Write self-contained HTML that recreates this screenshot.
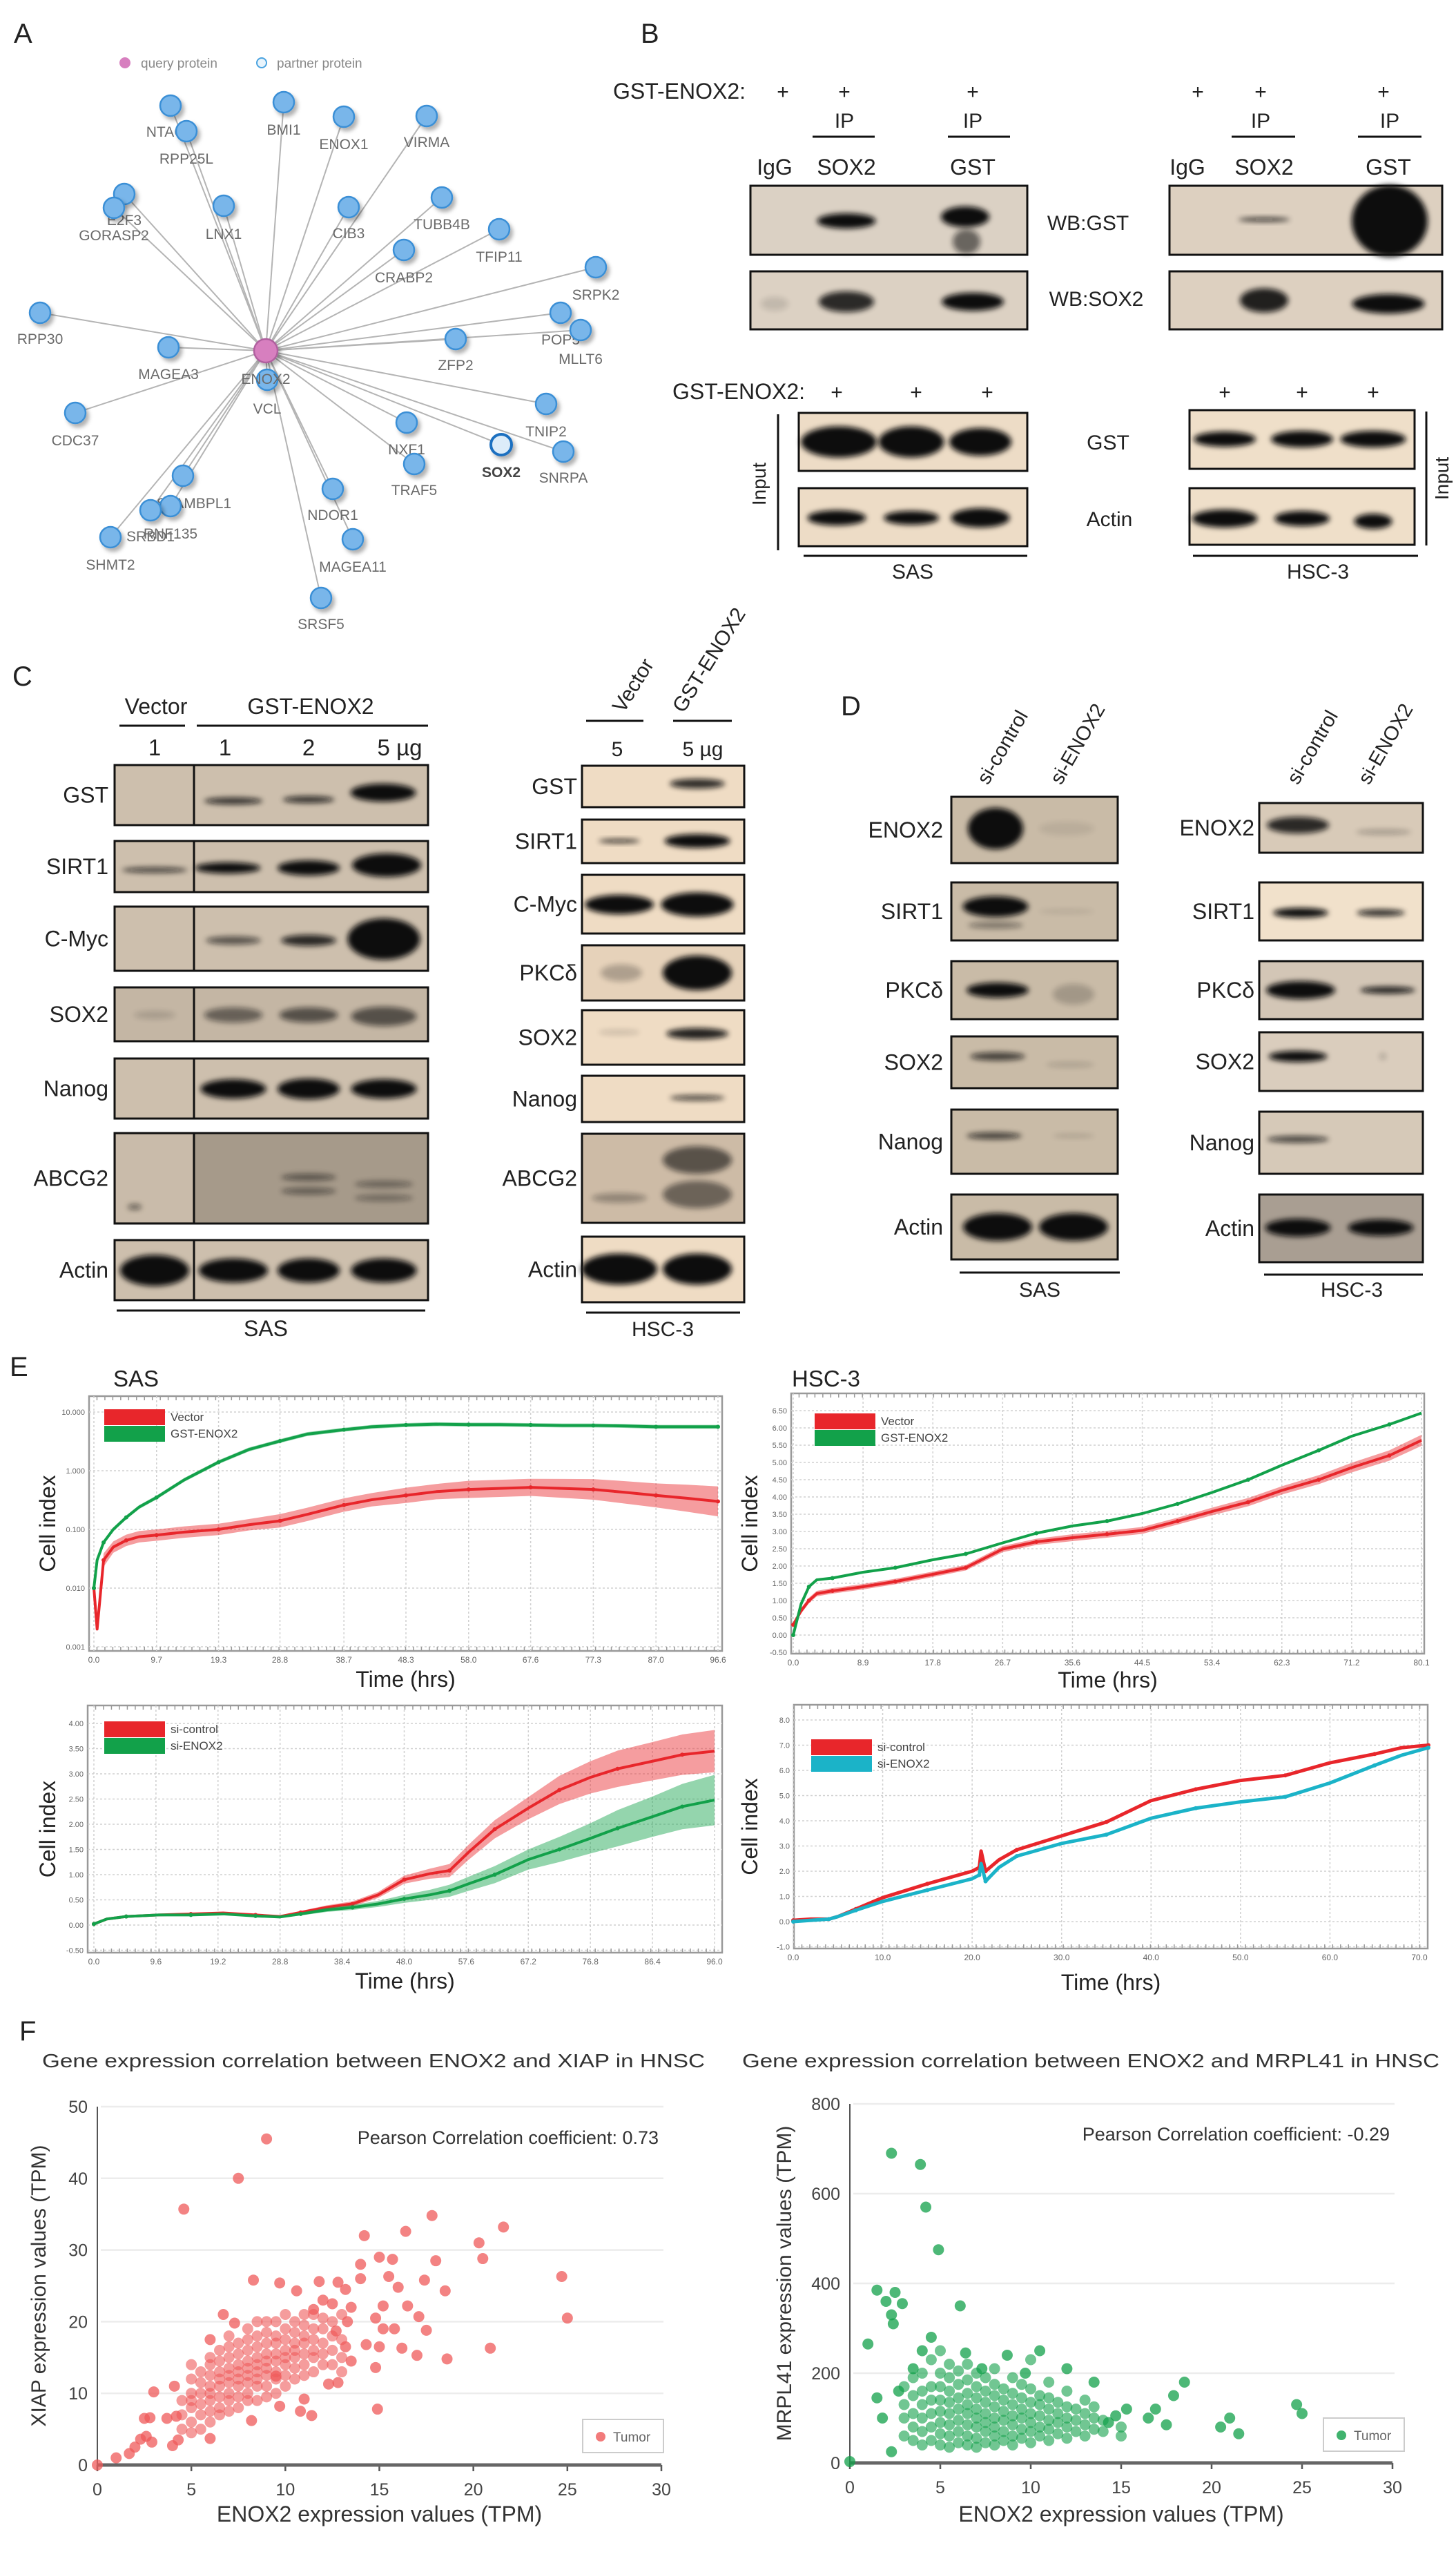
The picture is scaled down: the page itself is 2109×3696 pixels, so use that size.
<!DOCTYPE html>
<html><head><meta charset="utf-8"><title>ENOX2 figure</title>
<style>html,body{margin:0;padding:0;background:#fff}svg{display:block}</style></head>
<body>
<svg id="fig" width="2109" height="3696" viewBox="0 0 2109 3696" xmlns="http://www.w3.org/2000/svg" font-family="'Liberation Sans', Arial, sans-serif">
<defs>
<filter id="blur" x="-60%" y="-100%" width="220%" height="300%"><feGaussianBlur stdDeviation="4"/></filter>
<filter id="shadow" x="-50%" y="-50%" width="220%" height="220%"><feDropShadow dx="4" dy="5" stdDeviation="3" flood-color="#000" flood-opacity="0.3"/></filter>
</defs>
<rect x="0" y="0" width="2109" height="3696" fill="#fff"/>
</svg>
<script>
// ===== Panel E data =====
const sasOeTime=[0,0.5,1.5,3,5,7,9.7,14,19.3,24,28.8,33,38.7,43,48.3,53,58,62.8,67.6,72.5,77.3,82,87,91.8,96.6];
const sasOeGst=[0.01,0.03,0.06,0.1,0.16,0.24,0.35,0.7,1.4,2.3,3.2,4.2,5.0,5.6,6.0,6.2,6.1,6.1,6.0,5.9,5.9,5.8,5.6,5.6,5.6];
const sasOeVector=[0.01,0.002,0.03,0.05,0.065,0.075,0.08,0.09,0.1,0.12,0.14,0.18,0.26,0.32,0.38,0.44,0.48,0.5,0.52,0.5,0.48,0.43,0.38,0.34,0.3];
const sasOeVectorErr=[1,1,1.3,1.25,1.25,1.25,1.25,1.25,1.25,1.25,1.3,1.3,1.3,1.3,1.35,1.35,1.4,1.4,1.4,1.45,1.5,1.55,1.6,1.7,1.8];
const sasOeTicksX=[0,9.7,19.3,28.8,38.7,48.3,58.0,67.6,77.3,87.0,96.6];
const sasOeTicksY=[0.001,0.01,0.1,1,10];

const hscOeTime=[0,1,2,3,5,8.9,13,17.8,22,26.7,31,35.6,40,44.5,49,53.4,58,62.3,67,71.2,76,80.1];
const hscOeGst=[0,0.9,1.4,1.6,1.65,1.82,1.95,2.18,2.35,2.67,2.95,3.16,3.3,3.52,3.8,4.13,4.5,4.92,5.35,5.76,6.1,6.43];
const hscOeVector=[0.3,0.7,1.0,1.2,1.28,1.4,1.55,1.76,1.95,2.49,2.7,2.82,2.92,3.03,3.3,3.58,3.85,4.19,4.5,4.85,5.2,5.64];
const hscOeVectorErr=[0.05,0.08,0.08,0.08,0.08,0.08,0.08,0.08,0.08,0.09,0.09,0.1,0.1,0.1,0.1,0.11,0.12,0.12,0.13,0.14,0.15,0.16];
const hscOeTicksX=[0,8.9,17.8,26.7,35.6,44.5,53.4,62.3,71.2,80.1];
const hscOeTicksY=[-0.5,0,0.5,1,1.5,2,2.5,3,3.5,4,4.5,5,5.5,6,6.5];

const sasSiTime=[0,2,5,10,15,20,25,28.8,32,36,40,44,48,52,55,58,62,67.2,72,76.8,81,86.4,91,96];
const sasSiControl=[0.02,0.12,0.17,0.2,0.22,0.24,0.2,0.17,0.25,0.35,0.42,0.6,0.9,1.02,1.08,1.45,1.9,2.32,2.68,2.93,3.1,3.25,3.38,3.45];
const sasSiControlErr=[0.02,0.02,0.02,0.02,0.02,0.02,0.02,0.02,0.03,0.04,0.05,0.06,0.08,0.1,0.13,0.15,0.18,0.22,0.28,0.32,0.36,0.38,0.4,0.42];
const sasSiEnox2=[0.02,0.12,0.17,0.2,0.2,0.22,0.18,0.16,0.22,0.3,0.35,0.42,0.52,0.6,0.68,0.82,1.0,1.3,1.5,1.72,1.92,2.15,2.35,2.48];
const sasSiEnox2Err=[0.02,0.02,0.02,0.02,0.02,0.02,0.02,0.02,0.03,0.04,0.05,0.06,0.08,0.1,0.12,0.14,0.17,0.2,0.25,0.3,0.36,0.4,0.45,0.5];
const sasSiTicksX=[0,9.6,19.2,28.8,38.4,48.0,57.6,67.2,76.8,86.4,96.0];
const sasSiTicksY=[-0.5,0,0.5,1,1.5,2,2.5,3,3.5,4];

const hscSiTime=[0,2,4,5,7,10,15,20,20.8,21,21.5,23,25,30,35,40,45,50,55,60,65,68,71];
const hscSiControl=[0.05,0.1,0.1,0.2,0.5,0.95,1.5,2.0,2.15,2.8,2.0,2.45,2.85,3.4,3.95,4.8,5.25,5.6,5.8,6.3,6.65,6.9,7.0];
const hscSiEnox2=[0,0.05,0.1,0.2,0.45,0.8,1.25,1.7,1.85,2.3,1.6,2.15,2.6,3.1,3.45,4.1,4.5,4.75,4.95,5.5,6.2,6.6,6.9];
const hscSiTicksX=[0,10,20,30,40,50,60,70];
const hscSiTicksY=[-1,0,1,2,3,4,5,6,7,8];

// ===== Panel F data =====
const scatterTicksX=[0,5,10,15,20,25,30];
const xiapTicksY=[0,10,20,30,40,50];
const xiapColX=[4.5,5,5.5,6,6.5,7,7.5,8,8.5,9,9.5,10,10.5,11,11.5,12,12.5,13];
const xiapColY=[[5,7,9],[4.5,6,8,9,10,12,14],[5,7,8.5,10,11.5,13],[6,7.5,9,10,11,12.5,14,15],[7,8,9.5,11,12,13,14.5,16],[7.5,9,10,11.5,12.5,13.5,15,16.5,18],[8,9.5,11,12,13,14,15.5,17],[9,10,11.5,12.5,13.5,14.5,16,17.5,19],[9,11,12,13,14,15,16.5,18,20],[9.5,11,12.5,13.5,14.5,15.5,17,18.5,20],[10,12,13,14.5,15.5,17,18,20],[11,12.5,14,15,16,17.5,19,21],[12,13.5,15,16,17,18.5,20],[12.5,14,15.5,17,18,19.5,21],[13,15,16,17.5,19,21],[14,15.5,17,19,20.5],[14,16,18,20],[13,15,17.5,21]];
const xiapOutX=[0,9,7.5,4.6,17.8,21.6,16.4,14.2,20.3,15,15.7,18,20.5,14,24.7,25,20.9,18.6,14.9,17.4,18.5,16,15.5,14,8.3,9.7,10.6,11.8,12.8,13.2,16.5,17.1,17.5,15.2,14.8,15.2,15.8,14.3,15,16.2,17,14.8,13.5,13.2,13.5,13.3,12.7,12.5,11.5,12,1,1.7,2,2.3,2.6,2.9,2.5,2.8,3,4,4.3,4.1,3.7,4.2,6,6,6.7,7.3,8.2,9.7,11.4,10.8,11,9.5,12.3,12.8];
const xiapOutY=[0,45.5,40,35.7,34.8,33.2,32.6,32,31,29,28.7,28.5,28.8,28,26.3,20.5,16.3,14.8,7.8,25.8,24.3,24.8,26.3,26,25.8,25.4,24.3,25.6,25.5,24.5,22.2,20.7,18.8,22.2,20.5,19,19,16.8,16.5,16.3,15.3,13.6,14.5,16.5,22,20,18.7,22.5,21.7,23,1,1.6,2.5,3.6,4,3.2,6.5,6.6,10.2,2.7,3.5,11,6.5,6.8,3.7,17.5,21,19.8,6.2,8.2,6.9,7.5,9.2,12.4,11.3,11.5];
const mrplTicksY=[0,200,400,600,800];
const mrplColX=[3,3.5,4,4.5,5,5.5,6,6.5,7,7.5,8,8.5,9,9.5,10,10.5,11,11.5,12,12.5,13,13.5,14,15];
const mrplColY=[[60,100,130,170],[50,80,110,150,190],[40,70,100,130,160,200],[50,80,110,140,170,230],[40,65,90,115,140,170,200,250],[35,60,85,110,135,160,190,220],[45,70,95,120,145,175,205],[40,60,85,110,130,155,185,220],[35,55,80,100,120,145,170,200],[45,70,90,110,135,160,190],[40,60,80,100,125,150,175,210],[50,70,95,115,140,165],[40,60,85,105,130,155,190],[55,75,100,120,145,175],[45,70,90,110,135,165,230],[60,80,105,130,150],[50,75,95,120,145,180],[65,90,110,135],[55,80,100,125,160],[70,95,120],[60,85,110,140],[75,100,125],[70,95],[80,60]];
const mrplOutX=[2.3,3.9,4.2,4.9,1.5,2,2.5,2.9,2.3,2.4,6.1,1,2.3,0,24.7,25,21,20.5,21.5,18.5,17.9,16.9,16.5,17.5,15.3,14.7,14.3,13.5,12,10.5,9.7,8.7,7.3,6.4,4.5,4,3.5,2.7,1.5,1.8];
const mrplOutY=[690,665,570,475,385,360,380,355,330,310,350,265,25,3,130,110,100,80,65,180,150,120,100,85,120,105,90,180,210,250,200,240,210,245,280,250,210,160,145,100];

// ===== helpers =====
const NS='http://www.w3.org/2000/svg';
const svg=document.getElementById('fig');
function mk(tag,attrs,name,parent){
  const el=document.createElementNS(NS,tag);
  for(const k in attrs) el.setAttribute(k,attrs[k]);
  
  
  (parent||svg).appendChild(el);
  return el;
}
function txt(x,y,s,size,anchor,name,extra,parent){
  const a=Object.assign({x:x,y:y,'font-size':size,'text-anchor':anchor||'start',fill:'#222'},extra||{});
  const el=mk('text',a,name,parent);
  el.textContent=s;
  return el;
}
function line(x1,y1,x2,y2,stroke,w,name,parent,extra){
  return mk('line',Object.assign({x1:x1,y1:y1,x2:x2,y2:y2,stroke:stroke,'stroke-width':w},extra||{}),name,parent);
}

// ===== panel labels =====
txt(20,62,'A',40,'start','panel-label-a');
txt(928,62,'B',40,'start','panel-label-b');
txt(18,993,'C',40,'start','panel-label-c');
txt(1218,1036,'D',40,'start','panel-label-d');
txt(14,1993,'E',40,'start','panel-label-e');
txt(28,2955,'F',40,'start','panel-label-f');

// ===== Panel A network =====
const gA=mk('g',{},'interaction-network');
mk('circle',{cx:181,cy:91,r:8,fill:'#d77fbf'},'legend-query-dot',gA);
txt(204,98,'query protein',19,'start','legend-query-label',{fill:'#888'},gA);
mk('circle',{cx:379,cy:91,r:7,fill:'#e8f4fc',stroke:'#4aa3e0','stroke-width':2},'legend-partner-dot',gA);
txt(401,98,'partner protein',19,'start','legend-partner-label',{fill:'#888'},gA);
const hub=[385,508];
const nodes=[['NTAQ1',247,153,246,191],['RPP25L',270,190,270,230],['BMI1',411,148,411,188],['ENOX1',498,169,498,209],['VIRMA',618,168,618,206],['E2F3',180,281,180,319],['GORASP2',165,301,165,341],['LNX1',324,298,324,339],['CIB3',505,300,505,338],['TUBB4B',640,286,640,325],['TFIP11',723,332,723,372],['CRABP2',585,362,585,402],['SRPK2',863,387,863,427],['POP5',812,453,812,492],['MLLT6',841,478,841,520],['ZFP2',660,491,660,529],['RPP30',58,453,58,491],['MAGEA3',244,503,244,542],['VCL',387,550,387,592],['CDC37',109,598,109,638],['TNIP2',791,585,791,625],['NXF1',589,612,589,651],['SOX2',726,644,726,684],['SNRPA',816,654,816,692],['TRAF5',600,672,600,710],['STAMBPL1',265,689,281,729],['RNF135',247,733,247,773],['SRBD1',218,739,218,777],['SHMT2',160,778,160,818],['NDOR1',482,708,482,746],['MAGEA11',511,781,511,821],['SRSF5',465,866,465,904]];
nodes.forEach(n=>{ line(hub[0],hub[1],n[1],n[2],'#b4b4b4',2,'edge-'+n[0].toLowerCase(),gA); });
nodes.forEach(n=>{
  const isSox=n[0]==='SOX2';
  mk('circle',{cx:n[1],cy:n[2],r:15,fill:isSox?'#dcecf9':'#79b6ea',stroke:isSox?'#1f6fc0':'#3a8fd6','stroke-width':isSox?4:2.5,filter:'url(#shadow)'},'node-'+n[0].toLowerCase(),gA);
  txt(n[3],n[4]+7,n[0],21,'middle','node-label-'+n[0].toLowerCase(),{fill:isSox?'#444':'#6a6a6a','font-weight':isSox?'bold':'normal'},gA);
});
mk('circle',{cx:hub[0],cy:hub[1],r:17,fill:'#d77fbf',stroke:'#b0609f','stroke-width':2.5,filter:'url(#shadow)'},'node-enox2-query',gA);
txt(385,556,'ENOX2',21,'middle','node-label-enox2',{fill:'#6a6a6a'},gA);

// ===== Blot helpers =====
function blot(name,x,y,w,h,fill,bands,parent){
  const g=mk('g',{},name,parent);
  mk('rect',{x:x,y:y,width:w,height:h,fill:fill,stroke:'#111','stroke-width':3},name+'-membrane',g);
  bands.forEach((b,i)=>{
    mk('ellipse',{cx:b[0],cy:b[1],rx:b[2]/2,ry:b[3]/2,fill:'#0c0c0c',opacity:b[4],filter:'url(#blur)'},name+'-band-'+(i+1),g);
  });
  return g;
}

// ===== Panel B =====
const gB=mk('g',{},'panel-b-coip');
txt(888,143,'GST-ENOX2:',32,'start','b-gst-enox2-label',{},gB);
[1134,1223,1409,1735,1826,2004].forEach((x,i)=>txt(x,143,'+',30,'middle','b-plus-'+(i+1),{},gB));
[[1223,1177,1267],[1409,1373,1463],[1826,1784,1876],[2013,1967,2059]].forEach((p,i)=>{
  txt(p[0],185,'IP',30,'middle','b-ip-label-'+(i+1),{},gB);
  line(p[1],198,p[2],198,'#111',3,'b-ip-line-'+(i+1),gB);
});
[['IgG',1122],['SOX2',1226],['GST',1409],['IgG',1720],['SOX2',1831],['GST',2011]].forEach((p,i)=>txt(p[1],253,p[0],32,'middle','b-lane-'+p[0].toLowerCase()+'-'+(i+1),{},gB));
blot('b-sas-wb-gst',1087,269,401,100,'#dbd1c4',[[1226,320,85,22,1],[1398,314,70,30,1],[1400,350,40,36,0.55]],gB);
blot('b-sas-wb-sox2',1087,393,401,84,'#dcd1c3',[[1122,440,40,20,0.12],[1226,437,80,30,0.85],[1409,437,90,26,1]],gB);
blot('b-hsc3-wb-gst',1694,269,395,100,'#ddd0c0',[[1831,318,75,6,0.8],[2013,320,110,104,1]],gB);
blot('b-hsc3-wb-sox2',1694,393,395,84,'#ddd0c0',[[1831,435,70,35,0.9],[2011,440,105,28,1]],gB);
txt(1576,333,'WB:GST',30,'middle','b-wb-gst-label',{},gB);
txt(1588,443,'WB:SOX2',30,'middle','b-wb-sox2-label',{},gB);
txt(1166,578,'GST-ENOX2:',32,'end','b-input-gst-enox2-label',{},gB);
[1212,1327,1430,1774,1886,1989].forEach((x,i)=>txt(x,578,'+',30,'middle','b-input-plus-'+(i+1),{},gB));
blot('b-sas-input-gst',1157,598,331,84,'#eddcc6',[[1215,640,110,45,1],[1320,640,95,45,1],[1420,640,90,40,1]],gB);
blot('b-sas-input-actin',1157,707,331,84,'#eddcc6',[[1212,750,85,22,1],[1320,750,80,20,1],[1420,750,85,28,1]],gB);
blot('b-hsc3-input-gst',1723,594,326,85,'#efdfc9',[[1774,636,90,22,1],[1886,636,90,24,1],[1989,636,95,24,1]],gB);
blot('b-hsc3-input-actin',1723,707,326,82,'#efdfc9',[[1774,751,95,26,1],[1886,751,80,22,1],[1989,755,55,22,1]],gB);
txt(1605,651,'GST',30,'middle','b-input-gst-label',{},gB);
txt(1607,762,'Actin',30,'middle','b-input-actin-label',{},gB);
line(1127,600,1127,797,'#111',3,'b-input-bracket-left',gB);
txt(1099,701,'Input',28,'middle','b-input-label-left',{transform:'rotate(-90 1099 701)',dy:'10'},gB);
line(2066,596,2066,790,'#111',3,'b-input-bracket-right',gB);
txt(2088,693,'Input',28,'middle','b-input-label-right',{transform:'rotate(-90 2088 693)',dy:'10'},gB);
line(1164,805,1488,805,'#111',3,'b-sas-line',gB);
txt(1322,838,'SAS',30,'middle','b-sas-label',{},gB);
line(1728,805,2054,805,'#111',3,'b-hsc3-line',gB);
txt(1909,838,'HSC-3',30,'middle','b-hsc3-label',{},gB);

// ===== Panel C =====
const gC=mk('g',{},'panel-c-overexpression');
txt(226,1034,'Vector',32,'middle','c-vector-label',{},gC);
line(173,1051,268,1051,'#111',3,'c-vector-line',gC);
txt(450,1034,'GST-ENOX2',32,'middle','c-gst-enox2-label',{},gC);
line(285,1051,620,1051,'#111',3,'c-gst-enox2-line',gC);
[['1',224],['1',326],['2',447],['5 µg',579]].forEach((p,i)=>txt(p[1],1094,p[0],33,'middle','c-sas-dose-'+(i+1),{},gC));
const cL=[['GST',1108,1195,'#cdbfad',[[338,1160,85,10,0.8],[447,1158,75,10,0.8],[555,1148,95,26,1]]],
 ['SIRT1',1218,1292,'#cdbfad',[[224,1260,95,8,0.7],[330,1257,95,16,1],[447,1257,90,22,1],[560,1253,100,34,1]]],
 ['C-Myc',1313,1406,'#cdbfad',[[338,1362,80,12,0.6],[447,1362,80,16,0.85],[556,1360,105,60,1]]],
 ['SOX2',1430,1508,'#c4b6a4',[[224,1470,60,12,0.15],[338,1470,85,22,0.5],[447,1470,85,22,0.6],[556,1472,95,28,0.6]]],
 ['Nanog',1533,1620,'#cdbfad',[[338,1577,95,28,1],[447,1577,90,30,1],[556,1577,95,28,1]]],
 ['ABCG2',1641,1772,'#a69a8a',[[447,1705,80,10,0.5],[447,1725,80,10,0.45],[556,1715,85,10,0.4],[556,1735,85,10,0.35],[195,1748,20,8,0.5]]],
 ['Actin',1796,1883,'#cdbfad',[[224,1840,100,45,1],[338,1840,100,35,1],[447,1840,90,35,1],[556,1840,95,35,1]]]];
cL.forEach(r=>{
  const id='c-sas-'+r[0].toLowerCase();
  blot(id,166,r[1],454,r[2]-r[1],r[3],r[4],gC);
  line(281,r[1],281,r[2],'#111',3,id+'-divider',gC);
  txt(157,(r[1]+r[2])/2+11,r[0],32,'end',id+'-label',{},gC);
});
// vector lane of ABCG2 lighter
mk('rect',{x:168,y:1643,width:111,height:127,fill:'#cdbfad',opacity:0.9},'c-sas-abcg2-vector-lane',gC);
mk('ellipse',{cx:195,cy:1748,rx:10,ry:4,fill:'#111',opacity:0.5,filter:'url(#blur)'},'c-sas-abcg2-vector-band',gC);
line(281,1641,281,1772,'#111',3,'c-sas-abcg2-divider-top',gC);
line(843,1641,843,1641,'#111',1,'c-spacer',gC);
line(169,1898,616,1898,'#111',3,'c-sas-line',gC);
txt(385,1935,'SAS',32,'middle','c-sas-label',{},gC);
txt(903,1034,'Vector',30,'start','c-hsc3-vector-label',{transform:'rotate(-58 903 1034)'},gC);
txt(990,1034,'GST-ENOX2',30,'start','c-hsc3-gst-enox2-label',{transform:'rotate(-58 990 1034)'},gC);
line(849,1044,932,1044,'#111',3,'c-hsc3-vector-line',gC);
line(975,1044,1060,1044,'#111',3,'c-hsc3-gst-line',gC);
txt(894,1095,'5',30,'middle','c-hsc3-dose-1',{},gC);
txt(1018,1095,'5 µg',30,'middle','c-hsc3-dose-2',{},gC);
const cR=[['GST',1109,1169,'#efdcc4',[[1010,1135,80,14,0.85]]],
 ['SIRT1',1187,1250,'#efdcc4',[[897,1218,60,6,0.8],[1010,1218,95,20,1]]],
 ['C-Myc',1267,1352,'#efdcc4',[[897,1310,100,28,1],[1010,1310,105,35,1]]],
 ['PKCδ',1369,1449,'#e6d2ba',[[900,1409,60,25,0.25],[1010,1409,100,50,1]]],
 ['SOX2',1463,1542,'#efdcc4',[[897,1495,60,8,0.15],[1010,1497,90,16,0.9]]],
 ['Nanog',1558,1625,'#efdcc4',[[1010,1590,80,8,0.7]]],
 ['ABCG2',1642,1771,'#cdbba6',[[1010,1680,100,40,0.6],[1010,1730,100,40,0.5],[897,1735,80,14,0.3]]],
 ['Actin',1791,1886,'#efdcc4',[[897,1838,110,45,1],[1010,1838,100,45,1]]]];
cR.forEach(r=>{
  const id='c-hsc3-'+r[0].toLowerCase().replace('δ','d');
  blot(id,843,r[1],235,r[2]-r[1],r[3],r[4],gC);
  txt(836,(r[1]+r[2])/2+11,r[0],32,'end',id+'-label',{},gC);
});
line(849,1901,1072,1901,'#111',3,'c-hsc3-line',gC);
txt(960,1935,'HSC-3',30,'middle','c-hsc3-label',{},gC);

// ===== Panel D =====
const gD=mk('g',{},'panel-d-knockdown');
[['si-control',1431],['si-ENOX2',1537],['si-control',1880],['si-ENOX2',1983]].forEach((p,i)=>txt(p[1],1138,p[0],29,'start','d-lane-label-'+(i+1),{transform:'rotate(-60 '+p[1]+' 1138)'},gD));
const dL=[['ENOX2',1154,1250,[[1442,1200,80,60,1],[1545,1200,80,20,0.08]]],
 ['SIRT1',1278,1362,[[1442,1313,95,30,1],[1442,1340,80,10,0.4],[1545,1320,80,6,0.1]]],
 ['PKCδ',1392,1476,[[1445,1434,90,22,1],[1555,1440,60,30,0.2]]],
 ['SOX2',1501,1576,[[1445,1530,80,12,0.7],[1550,1542,70,8,0.15]]],
 ['Nanog',1607,1700,[[1440,1645,80,10,0.7],[1555,1645,60,6,0.15]]],
 ['Actin',1730,1824,[[1445,1777,100,40,1],[1555,1777,100,40,1]]]];
dL.forEach(r=>{
  const id='d-sas-'+r[0].toLowerCase().replace('δ','d');
  blot(id,1378,r[1],241,r[2]-r[1],'#c9bba7',r[3],gD);
  txt(1366,(r[1]+r[2])/2+11,r[0],32,'end',id+'-label',{},gD);
});
line(1390,1843,1622,1843,'#111',3,'d-sas-line',gD);
txt(1506,1878,'SAS',30,'middle','d-sas-label',{},gD);
const dR=[['ENOX2',1163,1235,'#d8cab8',[[1880,1195,90,24,0.85],[2004,1205,80,8,0.25]]],
 ['SIRT1',1278,1362,'#f1e1cb',[[1884,1322,80,14,1],[2000,1322,70,10,0.85]]],
 ['PKCδ',1392,1476,'#d3c6b6',[[1884,1434,100,26,1],[2010,1434,80,10,0.9]]],
 ['SOX2',1495,1580,'#dacdbd',[[1880,1530,85,16,1],[2003,1530,10,10,0.2]]],
 ['Nanog',1610,1700,'#d6c9b8',[[1880,1650,90,10,0.7]]],
 ['Actin',1730,1828,'#a99e92',[[1880,1778,95,26,1],[2000,1778,95,24,1]]]];
dR.forEach(r=>{
  const id='d-hsc3-'+r[0].toLowerCase().replace('δ','d');
  blot(id,1824,r[1],237,r[2]-r[1],r[3],r[4],gD);
  txt(1817,(r[1]+r[2])/2+11,r[0],32,'end',id+'-label',{},gD);
});
line(1831,1846,2061,1846,'#111',3,'d-hsc3-line',gD);
txt(1958,1878,'HSC-3',30,'middle','d-hsc3-label',{},gD);

// ===== Panel E charts =====
function drawE(o){
  const g=mk('g',{},o.name);
  mk('rect',{x:o.fx0,y:o.fy0,width:o.fx1-o.fx0,height:o.fy1-o.fy0,fill:'#fff',stroke:'#999','stroke-width':2.5},o.name+'-frame',g);
  const X=t=>o.px0+t/o.tmax*(o.px1-o.px0);
  const Y=o.log?(v=>o.yRef-Math.log10(v)*o.perDec):(v=>o.yZero-v*o.perUnit);
  o.ticksX.forEach((t,i)=>{
    line(X(t),o.fy0,X(t),o.fy1,'#d0d0d0',1.5,o.name+'-vgrid-'+i,g,{'stroke-dasharray':'3 3'});
    txt(X(t),o.fy1+17,t.toFixed(1),12,'middle',o.name+'-xtick-'+i,{fill:'#666'},g);
  });
  o.ticksY.forEach((v,i)=>{
    const y=Y(v);
    line(o.fx0,y,o.fx1,y,'#d0d0d0',1.5,o.name+'-hgrid-'+i,g,{'stroke-dasharray':'3 3'});
    txt(o.fx0-6,y+4,v.toFixed(o.dec),11,'end',o.name+'-ytick-'+i,{fill:'#666'},g);
  });
  const n=80;
  for(let k=0;k<=n;k++){
    const x=o.fx0+k*(o.fx1-o.fx0)/n;
    line(x,o.fy1,x,o.fy1-6,'#999',1.5,o.name+'-minor-bottom-'+k,g);
    line(x,o.fy0,x,o.fy0+6,'#999',1.5,o.name+'-minor-top-'+k,g);
  }
  o.series.forEach(s=>{
    if(s.err){
      const up=[],dn=[];
      s.t.forEach((t,i)=>{
        const hi=o.log? s.v[i]*s.err[i] : s.v[i]+s.err[i];
        const lo=o.log? s.v[i]/s.err[i] : s.v[i]-s.err[i];
        up.push(X(t)+','+Y(hi));
        dn.unshift(X(t)+','+Y(lo));
      });
      mk('polygon',{points:up.concat(dn).join(' '),fill:s.color,opacity:0.45},s.name+'-error-band',g);
    }
    const pts=s.t.map((t,i)=>X(t)+','+Y(s.v[i])).join(' ');
    mk('polyline',{points:pts,fill:'none',stroke:s.color,'stroke-width':s.w||4,'stroke-linejoin':'round'},s.name+'-line',g);
    s.t.forEach((t,i)=>{
      if(i%2===0) mk('circle',{cx:X(t),cy:Y(s.v[i]),r:3,fill:s.color},s.name+'-marker-'+i,g);
    });
  });
  o.legend.forEach((l,i)=>{
    const y=o.legY+i*24;
    mk('rect',{x:o.legX,y:y,width:88,height:23,fill:l[1]},o.name+'-legend-swatch-'+(i+1),g);
    txt(o.legX+96,y+17,l[0],17,'start',o.name+'-legend-label-'+(i+1),{fill:'#444'},g);
  });
  txt(o.ylabX,(o.fy0+o.fy1)/2,'Cell index',32,'middle',o.name+'-y-axis-title',{transform:'rotate(-90 '+o.ylabX+' '+(o.fy0+o.fy1)/2+')'},g);
  txt((o.fx0+o.fx1)/2,o.xlabY,'Time (hrs)',32,'middle',o.name+'-x-axis-title',{},g);
}
txt(164,2008,'SAS',33,'start','e-sas-title');
txt(1147,2008,'HSC-3',33,'start','e-hsc3-title');
const RED='#e8262b',GREEN='#12a14a',CYAN='#1bb3c8';
drawE({name:'e-sas-overexpression-chart',fx0:129,fy0:2022,fx1:1046,fy1:2391,px0:136,px1:1040,tmax:96.6,log:true,yRef:2130,perDec:85,
  ticksX:sasOeTicksX,ticksY:sasOeTicksY,dec:3,
  series:[{name:'e-sas-vector',t:sasOeTime,v:sasOeVector,err:sasOeVectorErr,color:RED},{name:'e-sas-gst-enox2',t:sasOeTime,v:sasOeGst,err:sasOeTime.map(()=>1.08),color:GREEN}],
  legend:[['Vector',RED],['GST-ENOX2',GREEN]],legX:151,legY:2041,ylabX:80,xlabY:2443});
drawE({name:'e-hsc3-overexpression-chart',fx0:1146,fy0:2018,fx1:2063,fy1:2395,px0:1149,px1:2059,tmax:80.1,log:false,yZero:2368,perUnit:50,
  ticksX:hscOeTicksX,ticksY:hscOeTicksY,dec:2,
  series:[{name:'e-hsc3-vector',t:hscOeTime,v:hscOeVector,err:hscOeVectorErr,color:RED},{name:'e-hsc3-gst-enox2',t:hscOeTime,v:hscOeGst,color:GREEN,w:4}],
  legend:[['Vector',RED],['GST-ENOX2',GREEN]],legX:1180,legY:2047,ylabX:1097,xlabY:2444});
drawE({name:'e-sas-knockdown-chart',fx0:127,fy0:2470,fx1:1046,fy1:2828,px0:136,px1:1035,tmax:96,log:false,yZero:2788,perUnit:73,
  ticksX:sasSiTicksX,ticksY:sasSiTicksY,dec:2,
  series:[{name:'e-sas-si-control',t:sasSiTime,v:sasSiControl,err:sasSiControlErr,color:RED},{name:'e-sas-si-enox2',t:sasSiTime,v:sasSiEnox2,err:sasSiEnox2Err,color:GREEN}],
  legend:[['si-control',RED],['si-ENOX2',GREEN]],legX:151,legY:2493,ylabX:80,xlabY:2880});
drawE({name:'e-hsc3-knockdown-chart',fx0:1150,fy0:2469,fx1:2068,fy1:2822,px0:1149,px1:2056,tmax:70,log:false,yZero:2783,perUnit:36.5,
  ticksX:hscSiTicksX,ticksY:hscSiTicksY,dec:1,
  series:[{name:'e-hsc3-si-control',t:hscSiTime,v:hscSiControl,color:RED,w:5},{name:'e-hsc3-si-enox2',t:hscSiTime,v:hscSiEnox2,color:CYAN,w:5}],
  legend:[['si-control',RED],['si-ENOX2',CYAN]],legX:1175,legY:2519,ylabX:1097,xlabY:2882});

// ===== Panel F scatter =====
function drawS(o){
  const g=mk('g',{},o.name);
  const X=v=>o.x0+v/30*(o.x1-o.x0);
  const Y=v=>o.y0-v/o.ymax*(o.y0-o.yTop);
  txt(o.titleX,2994,o.title,28,'middle',o.name+'-title',{fill:'#333',textLength:o.titleW,lengthAdjust:'spacingAndGlyphs'},g);
  o.ticksY.forEach((v,i)=>{
    if(v>0) line(o.x0+5,Y(v),o.x1+3,Y(v),'#ececec',2.5,o.name+'-hgrid-'+i,g);
    txt(o.x0-14,Y(v)+9,String(v),25,'end',o.name+'-ytick-'+i,{fill:'#444'},g);
  });
  line(o.x0,o.yTop,o.x0,o.y0,'#555',2,o.name+'-y-axis',g);
  o.ticksX.forEach((v,i)=>{
    line(X(v),o.y0,X(v),o.y0+9,'#555',2.5,o.name+'-xtick-mark-'+i,g);
    txt(X(v),o.y0+44,String(v),25,'middle',o.name+'-xtick-'+i,{fill:'#444'},g);
  });
  line(o.x0,o.y0,o.x1,o.y0,'#666',5,o.name+'-x-axis',g);
  o.colX.forEach((cx,i)=>{
    o.colY[i].forEach((cy,j)=>{
      mk('circle',{cx:X(cx),cy:Y(cy),r:8,fill:o.color,opacity:0.6},o.name+'-point-c'+i+'-'+j,g);
    });
  });
  o.outX.forEach((ox,i)=>{
    mk('circle',{cx:X(ox),cy:Y(o.outY[i]),r:8,fill:o.color,opacity:0.75},o.name+'-point-o'+i,g);
  });
  txt(o.x1-4,o.pearsonY,o.pearson,27,'end',o.name+'-pearson-label',{fill:'#333'},g);
  mk('rect',{x:o.legX,y:o.legY,width:117,height:48,fill:'#fff',stroke:'#ccc','stroke-width':2},o.name+'-legend-box',g);
  mk('circle',{cx:o.legX+26,cy:o.legY+25,r:7,fill:o.color,opacity:0.8},o.name+'-legend-dot',g);
  txt(o.legX+44,o.legY+32,'Tumor',19,'start',o.name+'-legend-label',{fill:'#666'},g);
  txt((o.x0+o.x1)/2,3652,'ENOX2 expression values (TPM)',32,'middle',o.name+'-x-axis-title',{fill:'#333'},g);
  txt(o.ylabX,(o.y0+o.yTop)/2,o.ylab,30,'middle',o.name+'-y-axis-title',{fill:'#333',transform:'rotate(-90 '+o.ylabX+' '+(o.y0+o.yTop)/2+')'},g);
}
drawS({name:'f-xiap-scatter',title:'Gene expression correlation between ENOX2 and XIAP in HNSC',titleX:541,titleW:960,
  x0:141,x1:958,y0:3570,yTop:3051,ymax:50,ticksX:scatterTicksX,ticksY:xiapTicksY,
  colX:xiapColX,colY:xiapColY,outX:xiapOutX,outY:xiapOutY,color:'#ef5a5a',
  pearson:'Pearson Correlation coefficient: 0.73',pearsonY:3105,legX:844,legY:3504,ylab:'XIAP expression values (TPM)',ylabX:66});
drawS({name:'f-mrpl41-scatter',title:'Gene expression correlation between ENOX2 and MRPL41 in HNSC',titleX:1580,titleW:1010,
  x0:1231,x1:2017,y0:3567,yTop:3047,ymax:800,ticksX:scatterTicksX,ticksY:mrplTicksY,
  colX:mrplColX,colY:mrplColY,outX:mrplOutX,outY:mrplOutY,color:'#12a04a',
  pearson:'Pearson Correlation coefficient: -0.29',pearsonY:3100,legX:1917,legY:3502,ylab:'MRPL41 expression values (TPM)',ylabX:1146});
</script>
</body></html>
